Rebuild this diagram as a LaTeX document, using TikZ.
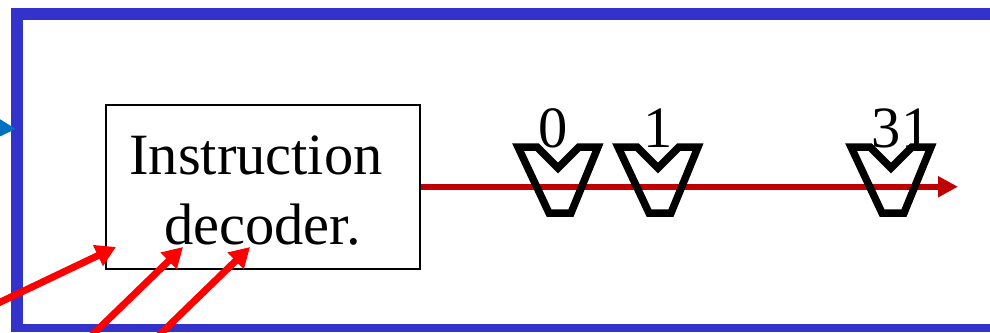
\documentclass[tikz,border=0pt]{standalone}
\usepackage{fontspec}
\setmainfont{Liberation Serif}
\usetikzlibrary{arrows.meta}
\definecolor{framec}{HTML}{3333CC}
\definecolor{inred}{HTML}{FF0000}
\definecolor{busred}{HTML}{C00000}
\definecolor{inblue}{HTML}{0070C0}
\tikzset{
  bigtext/.style={font=\fontsize{58.5}{70}\selectfont,inner sep=0pt,text=black},
  decoderbox/.style={draw=black,line width=2pt,fill=white,minimum width=314pt,minimum height=163.5pt,inner sep=0pt},
  framepath/.style={draw=framec,line width=12pt},
  framebottom/.style={draw=framec,line width=8pt},
  inarrow/.style={draw=inred,line width=7pt,-{Triangle[length=20pt,width=22pt,fill=inred]}},
  busarrow/.style={draw=busred,line width=6pt,-{Triangle[length=20pt,width=20pt,fill=busred]}},
  bluearrow/.style={draw=inblue,line width=6pt,-{Triangle[length=20pt,width=20pt,fill=inblue]}},
  vgate/.style={draw=black,line width=7.5pt,line join=miter,miter limit=3},
}
\begin{document}
\begin{tikzpicture}[x=1pt,y=-1pt]
\path[use as bounding box,clip] (0,0) rectangle (990,332);
\fill[white] (0,0) rectangle (990,332);
% frame
\draw[framepath] (1000,14) -- (17,14) -- (17,326);
\draw[framebottom] (11,328) -- (1000,328);
% box
\node[decoderbox] (dec) at (262.5,186.75) {};
\node[bigtext,align=center] (dectext) at (262.5,191) {Instruction\hspace*{13pt}\\decoder.};
% inputs
\coordinate (i1s) at (-10,307);
\coordinate (i1t) at (116,247);
\coordinate (i2s) at (85,342);
\coordinate (i2t) at (183,247);
\coordinate (i3s) at (152,342);
\coordinate (i3t) at (250,247);
\coordinate (bs) at (-20,127);
\coordinate (bt) at (16,129);
\coordinate (busend) at (958,186.75);
\draw[bluearrow] (bs) -- (bt);
\draw[inarrow] (i1s) -- (i1t);
\draw[inarrow] (i2s) -- (i2t);
\draw[inarrow] (i3s) -- (i3t);
\draw[busarrow] (dec.east) -- (busend);
% switches
\foreach \dx/\lab/\lx/\nm in {0/0/553/a,100/1/658/b,333/31/901/c}{
  \begin{scope}[xshift=\dx pt]
    \draw[vgate] (537,147) -- (518,147) -- (549,213) -- (571,213) -- (598,147) -- (579,147) -- (558,168) -- cycle;
  \end{scope}
  \node[bigtext,anchor=base] (lab\nm) at (\lx,147) {\lab};
}
\end{tikzpicture}
\end{document}
